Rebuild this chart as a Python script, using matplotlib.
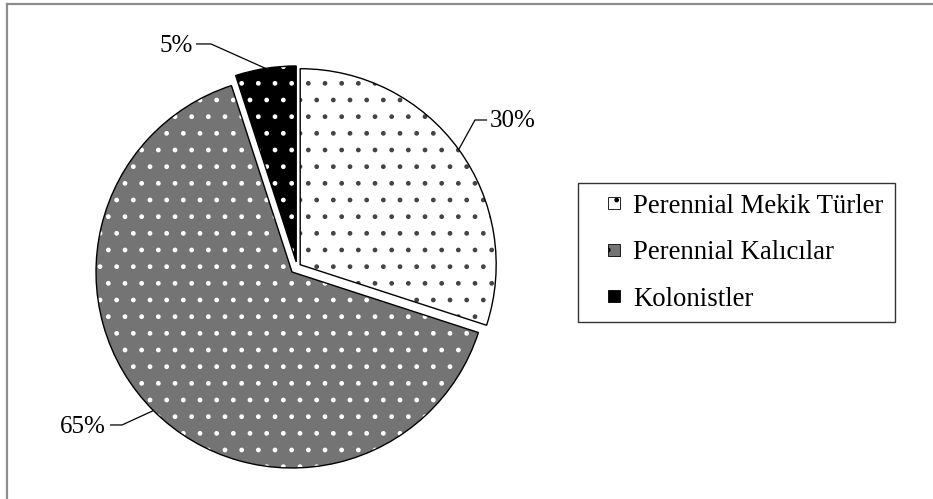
import matplotlib
matplotlib.use("Agg")
import matplotlib.pyplot as plt
import numpy as np
from matplotlib.patches import Wedge, Rectangle
from matplotlib.lines import Line2D
from matplotlib.legend_handler import HandlerPatch

plt.rcParams['font.family'] = ['Liberation Serif', 'DejaVu Serif']

# ---- data ----
categories = ["Perennial Mekik Türler", "Perennial Kalıcılar", "Kolonistler"]
values = [30, 65, 5]
pct_labels = ["30%", "65%", "5%"]

# ---- style ----
explode = [0.02, 0.036, 0.026]
faces = ["white", "#747474", "black"]
dot_colors = ["#444444", "white", "white"]
# leader layout: (elbow, end of horizontal, text anchor, ha) in axes data units
leaders = [
    ((0.908, 0.75), (0.97, 0.75), (0.985, 0.745), "left"),
    ((-0.893, -0.806), (-0.954, -0.806), (-0.975, -0.815), "right"),
    ((-0.439, 1.138), (-0.515, 1.138), (-0.53, 1.125), "right"),
]

W, H = 933, 499
fig = plt.figure(figsize=(W / 100, H / 100), dpi=100)

R = 196.0
cx, cy = 297.0, 267.0
L = 1.3
side = 2 * L * R
ax = fig.add_axes([(cx - L * R) / W, (H - cy - L * R) / H, side / W, side / H])

wedges, _ = ax.pie(values, explode=explode, startangle=90, counterclock=False,
                   radius=1.0, wedgeprops=dict(linewidth=1.0, edgecolor="black"))
ax.set_xlim(-L, L)
ax.set_ylim(-L, L)
ax.set_aspect("auto")
ax.axis("off")

for w, fc, dc in zip(wedges, faces, dot_colors):
    w.set_facecolor(fc)
    w.set_hatch(".")
    w.set_edgecolor(dc)
    w.set_linewidth(0)
    outline = Wedge(w.center, w.r, w.theta1, w.theta2, fill=False,
                    edgecolor="black", linewidth=1.0, zorder=w.get_zorder() + 0.1)
    ax.add_patch(outline)

# leader lines and percent labels
for w, lab, (elbow, hend, txy, ha) in zip(wedges, pct_labels, leaders):
    mid = np.deg2rad((w.theta1 + w.theta2) / 2)
    sx = w.center[0] + w.r * np.cos(mid)
    sy = w.center[1] + w.r * np.sin(mid)
    ax.plot([sx, elbow[0], hend[0]], [sy, elbow[1], hend[1]], color="black",
            lw=0.9, clip_on=False, solid_capstyle="butt")
    ax.text(txy[0], txy[1], lab, ha=ha, va="center", fontsize=18, clip_on=False)

# legend
def square(legend, orig_handle, xdescent, ydescent, width, height, fontsize):
    s = 12 * 72 / 100.0
    return Rectangle((width - xdescent - s - 2 * 72 / 100.0, -ydescent + (height - s) / 2), s, s)

handles = wedges
leg = fig.legend(handles, categories, loc="upper left",
                 bbox_to_anchor=(578 / W, 1 - 183 / H), bbox_transform=fig.transFigure,
                 borderaxespad=0, fontsize=19.3, frameon=True, fancybox=False,
                 borderpad=0.4, handlelength=1.25, handleheight=0.7,
                 handletextpad=0.42, labelspacing=0.8,
                 handler_map={matplotlib.patches.Wedge: HandlerPatch(patch_func=square)})
leg.get_frame().set_edgecolor("black")
leg.get_frame().set_linewidth(1.0)
for p in leg.get_patches():
    p.set_linewidth(0.6)
    p.set_edgecolor("black")

# outer frame (top and left only visible)
fig.add_artist(Line2D([6.5 / W, 1], [1 - 4 / H, 1 - 4 / H], transform=fig.transFigure,
                      color="#8c8c8c", lw=1.6))
fig.add_artist(Line2D([6.5 / W, 6.5 / W], [0, 1 - 4 / H], transform=fig.transFigure,
                      color="#8c8c8c", lw=1.6))

fig.savefig("out.png", dpi=100)
